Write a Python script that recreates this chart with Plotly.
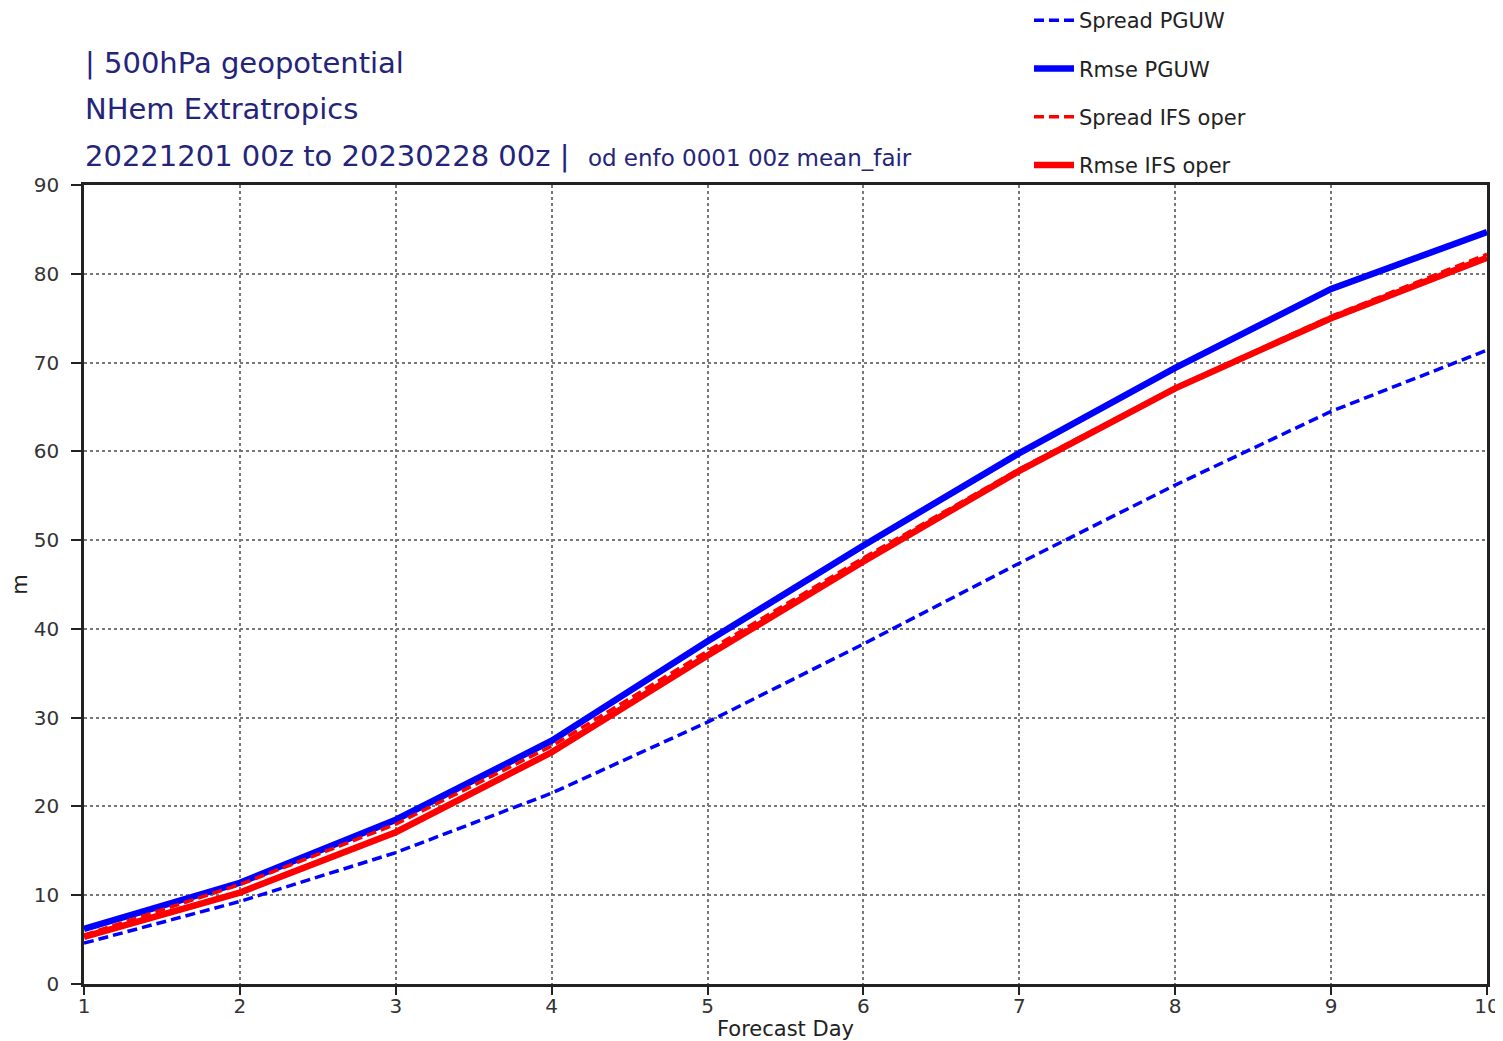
import plotly.graph_objects as go

days = [1, 2, 3, 4, 5, 6, 7, 8, 9, 10]
spread_pguw = [4.6, 9.3, 14.8, 21.5, 29.5, 38.3, 47.4, 56.2, 64.5, 71.4]
rmse_pguw = [6.2, 11.4, 18.5, 27.4, 38.6, 49.4, 59.8, 69.4, 78.3, 84.7]
spread_ifs = [5.5, 11.2, 18.0, 26.8, 37.5, 48.0, 58.0, 67.2, 75.2, 82.2]
rmse_ifs = [5.3, 10.3, 17.1, 26.1, 37.0, 47.6, 57.8, 67.1, 75.0, 81.8]

xticks = [1, 2, 3, 4, 5, 6, 7, 8, 9, 10]
yticks = [0, 10, 20, 30, 40, 50, 60, 70, 80, 90]

# page offset (default body margin of the html page)
OFF = 8
W, H = 1503 - OFF, 1041 - OFF
L, T = 84 - OFF, 185 - OFF
R, B = 16, 57
PW, PH = W - L - R, H - T - B


def px_x(page_x):
    return (page_x - OFF - L) / PW


def px_y(page_y):
    return 1 + (T - (page_y - OFF)) / PH


fig = go.Figure()
series = [
    ("Spread PGUW", spread_pguw, "#0000ff", 3.5, "10px,5px"),
    ("Rmse PGUW", rmse_pguw, "#0000ff", 6.5, "solid"),
    ("Spread IFS oper", spread_ifs, "#ff0000", 3.5, "10px,5px"),
    ("Rmse IFS oper", rmse_ifs, "#ff0000", 6.5, "solid"),
]
for i, (name, vals, col, w, dash) in enumerate(series):
    fig.add_trace(go.Scatter(x=days, y=vals, mode="lines", name=name,
                             legendgroup=f"g{i}",
                             line=dict(color=col, width=w, dash=dash)))

title_col = "#24247a"
tfont = "DejaVu Sans, sans-serif"
ann = [
    dict(text="| 500hPa geopotential", y=63, size=29),
    dict(text="NHem Extratropics", y=109, size=29),
    dict(text="20221201 00z to 20230228 00z |  <span style='font-size:23px'>od enfo 0001 00z mean_fair</span>", y=156, size=29),
]
annotations = []
for a in ann:
    annotations.append(dict(text=a["text"], xref="paper", yref="paper",
                            x=px_x(83), y=px_y(a["y"]),
                            xanchor="left", yanchor="middle", showarrow=False,
                            font=dict(family=tfont, size=a["size"], color=title_col)))

fig.update_layout(
    width=W, height=H,
    margin=dict(l=L, r=R, t=T, b=B, autoexpand=False),
    paper_bgcolor="white", plot_bgcolor="white",
    font=dict(family="DejaVu Sans, sans-serif", size=20, color="#333333"),
    annotations=annotations,
    showlegend=True,
    legend=dict(x=px_x(1029), y=px_y(0), xanchor="left", yanchor="top",
                font=dict(family="DejaVu Sans, sans-serif", size=21, color="#222222"),
                tracegroupgap=18, itemwidth=40, bgcolor="rgba(0,0,0,0)"),
    xaxis=dict(range=[1, 10], tickvals=xticks, ticktext=[str(v) for v in xticks],
               showline=True, linecolor="#222222", linewidth=2.5, mirror=True,
               ticks="outside", ticklen=8, tickwidth=2, tickcolor="#222222",
               ticklabelstandoff=-6,
               showgrid=True, gridcolor="#777777", griddash="dot", gridwidth=1.5,
               zeroline=False,
               title=dict(text="Forecast Day", font=dict(size=21, color="#222222"), standoff=6),
               tickfont=dict(family="DejaVu Sans, sans-serif", size=20, color="#333333")),
    yaxis=dict(range=[0, 90], tickvals=yticks, ticktext=[str(v) for v in yticks],
               showline=True, linecolor="#222222", linewidth=2.5, mirror=True,
               ticks="outside", ticklen=10, tickwidth=2, tickcolor="#222222",
               ticklabelstandoff=8,
               showgrid=True, gridcolor="#777777", griddash="dot", gridwidth=1.5,
               zeroline=False,
               title=dict(text="m", font=dict(size=21, color="#222222"), standoff=12),
               tickfont=dict(family="DejaVu Sans, sans-serif", size=20, color="#333333")),
)

fig.write_html("out.html")
